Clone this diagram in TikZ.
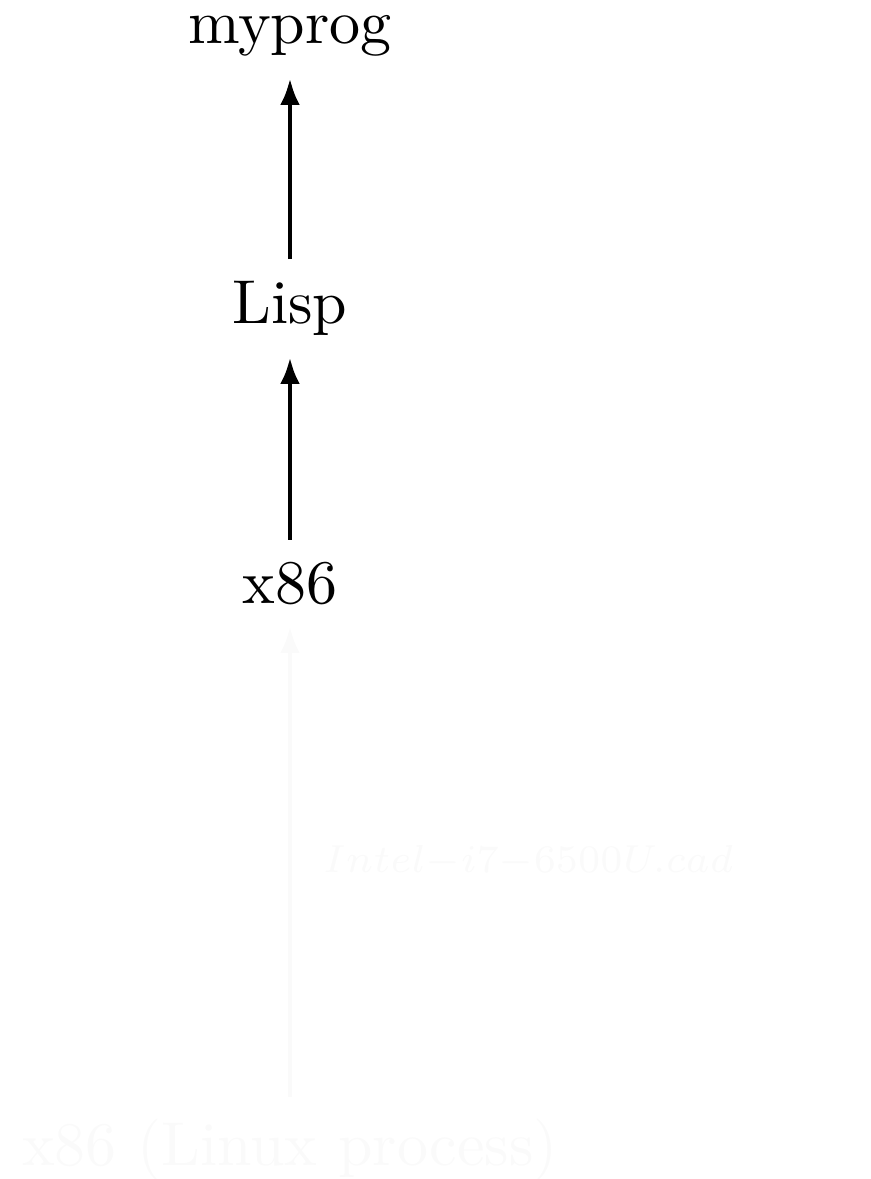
\documentclass[tikz,border=0pt]{standalone}
\usetikzlibrary{arrows.meta}
\begin{document}
\begin{tikzpicture}[x=0.16129pt, y=-0.16129pt,
  lvl/.style={anchor=base, inner sep=3.33pt},
  up/.style={line width=0.8pt, -{Latex[length=4.3pt,width=3.2pt]}},
  faded/.style={black!2},
  cadlabel/.style={anchor=west, xshift=2pt, scale=0.9}]
  \useasboundingbox (0,0) rectangle (871,1179);

  % stack of interpreters, top to bottom
  \node[lvl] (prog) at (290,43.5) {myprog};
  \node[lvl] (lisp) at (290,323.3) {Lisp};
  \node[lvl] (x86)  at (290,603) {x86};
  \node[lvl, faded] (host) at (290,1165) {x86 (Linux process)};

  \draw[up] (lisp) -- (prog);
  \draw[up] (x86) -- (lisp);
  \draw[up, faded] (host) -- (x86)
    node[midway, cadlabel] {$\scriptstyle Intel-i7-6500U.cad$};
\end{tikzpicture}
\end{document}
